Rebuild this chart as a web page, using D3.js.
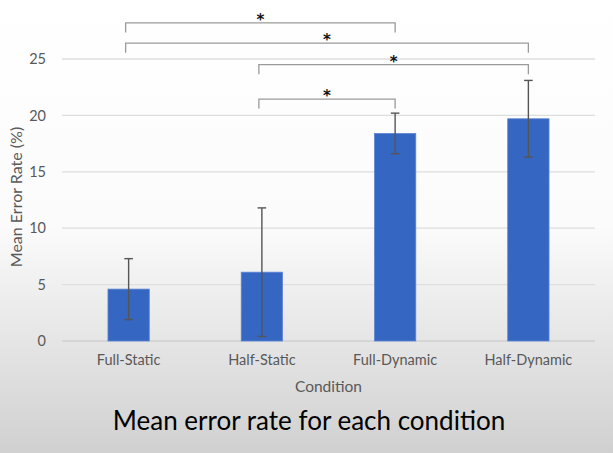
<!DOCTYPE html>
<html>
<head>
<meta charset="utf-8">
<script src="https://cdn.jsdelivr.net/npm/d3@7"></script>
<style>
  body { margin: 0; padding: 0; overflow: hidden; }
</style>
</head>
<body>
<div id="chart"></div>
<script>
// chart data
var conditions = ['Full-Static', 'Half-Static', 'Full-Dynamic', 'Half-Dynamic'];
var meanError = [4.6, 6.1, 18.4, 19.7];
var errorSize = [2.7, 5.7, 1.8, 3.4];
var yTicks = [0, 5, 10, 15, 20, 25];
// significance brackets: from, to, height (in %)
var bracketFrom = ['Full-Static', 'Full-Static', 'Half-Static', 'Half-Static'];
var bracketTo = ['Full-Dynamic', 'Half-Dynamic', 'Half-Dynamic', 'Full-Dynamic'];
var bracketLevel = [28.2, 26.4, 24.5, 21.45];
var bracketLabel = ['*', '*', '*', '*'];

var W = 613, H = 453;
var margin = {left: 62, right: 18, top: 59, bottom: 112};

var svg = d3.select('#chart').append('svg')
    .attr('width', W)
    .attr('height', H)
    .style('font-family', 'Lato, sans-serif');

// grey fade background
var grad = svg.append('defs').append('linearGradient')
    .attr('id', 'bg')
    .attr('x1', 0).attr('y1', 0).attr('x2', 0).attr('y2', 1);
grad.append('stop').attr('offset', '0%').attr('stop-color', '#ffffff');
grad.append('stop').attr('offset', '50%').attr('stop-color', '#fbfbfb');
grad.append('stop').attr('offset', '100%').attr('stop-color', '#d0d0d0');

svg.append('rect')
    .attr('width', W)
    .attr('height', H)
    .attr('fill', 'url(#bg)');

var x = d3.scaleBand()
    .domain(conditions)
    .range([margin.left, W - margin.right])
    .paddingInner(0.69)
    .paddingOuter(0.345);

var y = d3.scaleLinear()
    .domain([0, 25])
    .range([H - margin.bottom, margin.top]);

// gridlines
svg.append('g')
    .selectAll('line')
    .data(yTicks)
    .enter().append('line')
    .attr('x1', margin.left)
    .attr('x2', W - margin.right)
    .attr('y1', function(d) { return y(d); })
    .attr('y2', function(d) { return y(d); })
    .attr('stroke', function(d) { return d === 0 ? '#cfcfcf' : '#dedede'; })
    .attr('stroke-width', 1.3);

// y axis labels
var yAxis = d3.axisLeft(y).tickValues(yTicks).tickSize(0).tickPadding(16);
var ya = svg.append('g')
    .attr('transform', 'translate(' + margin.left + ',0)')
    .call(yAxis);
ya.select('.domain').remove();
ya.selectAll('text')
    .attr('fill', '#595959')
    .style('font-size', '14.5px')
    .style('font-family', 'Lato, sans-serif');

// x axis labels
var xAxis = d3.axisBottom(x).tickSize(0).tickPadding(14);
var xa = svg.append('g')
    .attr('transform', 'translate(0,' + y(0) + ')')
    .call(xAxis);
xa.select('.domain').remove();
xa.selectAll('text')
    .attr('fill', '#595959')
    .style('font-size', '14.5px')
    .style('font-family', 'Lato, sans-serif');

// bars
svg.append('g')
    .selectAll('rect')
    .data(conditions)
    .enter().append('rect')
    .attr('x', function(d) { return x(d); })
    .attr('y', function(d, i) { return y(meanError[i]); })
    .attr('width', x.bandwidth())
    .attr('height', function(d, i) { return y(0) - y(meanError[i]); })
    .attr('fill', '#3566c2')
    .attr('stroke', '#5b84d4')
    .attr('stroke-width', 0.8);

// error bars
var eb = svg.append('g')
    .attr('stroke', '#555555')
    .attr('stroke-width', 1.4);
conditions.forEach(function(c, i) {
    var cx = x(c) + x.bandwidth() / 2;
    var hi = y(meanError[i] + errorSize[i]);
    var lo = y(meanError[i] - errorSize[i]);
    eb.append('line').attr('x1', cx).attr('x2', cx).attr('y1', hi).attr('y2', lo);
    eb.append('line').attr('x1', cx - 4.3).attr('x2', cx + 4.3).attr('y1', hi).attr('y2', hi);
    eb.append('line').attr('x1', cx - 4.3).attr('x2', cx + 4.3).attr('y1', lo).attr('y2', lo);
});

// significance brackets
var br = svg.append('g');
bracketLevel.forEach(function(lv, i) {
    var x1 = x(bracketFrom[i]) + x.bandwidth() / 2 - 3;
    var x2 = x(bracketTo[i]) + x.bandwidth() / 2;
    var top = y(lv);
    br.append('path')
        .attr('d', 'M' + x1 + ',' + (top + 9.5) + 'V' + top + 'H' + x2 + 'V' + (top + 9.5))
        .attr('fill', 'none')
        .attr('stroke', '#9a9a9a')
        .attr('stroke-width', 1.3);
    br.append('text')
        .attr('x', (x1 + x2) / 2)
        .attr('y', top + 2)
        .attr('text-anchor', 'middle')
        .attr('font-family', 'DejaVu Sans, sans-serif')
        .attr('font-size', '15px')
        .attr('font-weight', 'bold')
        .attr('fill', '#111')
        .text(bracketLabel[i]);
});

// y axis title
svg.append('text')
    .attr('transform', 'translate(22,197) rotate(-90)')
    .attr('text-anchor', 'middle')
    .attr('fill', '#595959')
    .attr('font-size', '16px')
    .text('Mean Error Rate (%)');

// x axis title
svg.append('text')
    .attr('x', (margin.left + W - margin.right) / 2)
    .attr('y', 392)
    .attr('text-anchor', 'middle')
    .attr('fill', '#595959')
    .attr('font-size', '15.5px')
    .text('Condition');

// caption
svg.append('text')
    .attr('x', 309)
    .attr('y', 430)
    .attr('text-anchor', 'middle')
    .attr('fill', '#000')
    .attr('font-size', '26px')
    .text('Mean error rate for each condition');
</script>
</body>
</html>
